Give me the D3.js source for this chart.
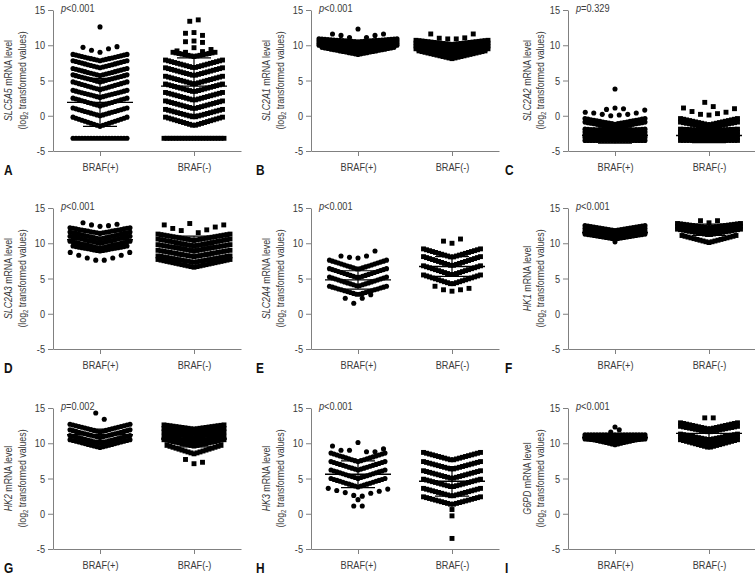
<!DOCTYPE html>
<html><head><meta charset="utf-8">
<script src="https://cdn.jsdelivr.net/npm/d3@7"></script>
<style>
body{margin:0;background:#fff}
svg{display:block;font-family:"Liberation Sans",Arial,sans-serif}
</style></head><body><svg id="c" width="755" height="576"></svg>
<script>
const categories = ["BRAF(+)", "BRAF(-)"];
const panelLetters = ["A","B","C","D","E","F","G","H","I"];
const genes = ["SLC5A5","SLC2A1","SLC2A2","SLC2A3","SLC2A4","HK1","HK2","HK3","G6PD"];
const pLabels = ["<0.001","<0.001","=0.329","<0.001","<0.001","<0.001","=0.002","<0.001","<0.001"];
const yTicks = [-5, 0, 5, 10, 15];
const means = [[1.9,4.2],[10.1,9.7],[-2.8,-2.8],[10.5,9.6],[4.8,6.7],[11.5,11.9],[11.2,10.6],[5.6,4.6],[10.8,11.4]];
const sds   = [[3.4,4.0],[0.5,0.6],[1.1,1.0],[1.1,1.4],[1.3,1.4],[0.5,0.8],[0.8,1.1],[1.9,2.1],[0.4,0.8]];

// dense binned rows: [edge value, centre value, number of points]
const rowsA_pos = [[8.7,7.8,19],[7.8,6.8,19],[6.7,5.7,19],[5.8,4.8,19],[4.8,3.7,19],[3.6,2.6,19],[2.5,1.4,19],[1.1,0.0,19],[-0.2,-1.5,19],[-3.2,-3.2,19]];
const rowsA_neg = [[9.0,8.4,15],[7.9,6.8,20],[6.8,5.7,20],[5.6,4.5,20],[4.5,3.4,20],[3.3,2.2,20],[2.1,1.0,20],[0.9,-0.2,20],[-0.2,-1.4,20],[-3.2,-3.2,21]];
const rowsB_pos = [[10.9,10.5,27],[10.6,10.0,27],[10.3,9.5,27],[10.0,9.1,27],[9.7,8.7,25]];
const rowsB_neg = [[10.7,10.1,25],[10.3,9.6,25],[9.9,9.1,25],[9.5,8.6,25],[9.2,8.1,23]];
const rowsC_pos = [[-0.4,-1.2,21],[-0.9,-1.7,21],[-1.9,-2.1,21],[-2.3,-2.4,21],[-2.7,-2.7,21],[-3.1,-3.1,21],[-3.5,-3.5,21]];
const rowsC_neg = [[-0.4,-1.3,20],[-0.9,-1.7,20],[-1.9,-2.1,20],[-2.3,-2.3,20],[-2.7,-2.7,20],[-3.1,-3.1,20],[-3.5,-3.5,20]];
const rowsD_pos = [[12.2,11.4,21],[11.6,10.6,21],[11.0,10.0,21],[10.3,9.3,21],[9.6,8.9,19]];
const rowsD_neg = [[11.3,10.4,25],[10.6,9.6,25],[9.8,8.9,25],[9.0,8.1,25],[8.2,7.3,25],[7.7,6.6,25]];
const rowsE_pos = [[7.6,6.3,20],[6.4,5.1,20],[5.2,3.9,20],[3.9,2.7,20]];
const rowsE_neg = [[9.2,8.0,20],[8.1,6.8,20],[6.8,5.5,20],[5.5,4.2,20]];
const rowsF_pos = [[12.5,11.8,21],[12.1,11.4,21],[11.7,11.0,21],[11.3,10.6,21]];
const rowsF_neg = [[12.8,12.2,22],[12.4,11.7,22],[12.0,11.2,22],[11.1,10.1,19]];
const rowsG_pos = [[12.7,11.6,21],[11.9,10.8,21],[11.1,10.0,21],[10.5,9.4,21]];
const rowsG_neg = [[12.6,12.0,21],[12.1,11.4,21],[11.6,10.8,21],[11.0,10.2,21],[10.5,9.6,21],[9.7,8.5,19]];
const rowsH_pos = [[8.6,7.4,19],[7.4,6.2,19],[6.2,5.0,19],[5.0,3.8,19]];
const rowsH_neg = [[8.7,7.6,20],[7.4,6.3,20],[6.1,5.0,20],[4.9,3.8,20],[3.6,2.5,20],[2.4,1.3,20]];
const rowsI_pos = [[11.2,11.2,21],[10.9,10.8,21],[10.6,10.3,21],[10.8,9.8,21]];
const rowsI_neg = [[12.9,12.0,20],[12.4,11.6,20],[11.3,10.5,20],[10.9,10.0,20],[10.5,9.4,20]];

// sparse rows: individual values, left to right
const sparseA_pos = [[9.7,9.3,9.0,9.5,9.8],[12.6]];
const sparseA_neg = [[13.4,13.6],[11.7,11.8,11.4],[10.5,10.6,10.4],[9.2,9.0,9.65,9.1,9.4]];
const sparseB_pos = [[11.6,11.4,11.1,12.3,11.1,11.4,11.6]];
const sparseB_neg = [[11.6,11.0,10.9,10.9,11.05,11.6]];
const sparseC_pos = [[0.5,0.4,0.2,0.0,0.1,0.2,0.4,0.8],[0.9,1.1,1.0],[3.8]];
const sparseC_neg = [[1.1,0.6,0.2,0.1,0.3,0.5,1.0],[1.9,1.3]];
const sparseD_pos = [[12.9,12.6,12.4,12.5,12.7],[8.7,8.3,7.9,7.6,7.6,7.9,8.3,8.7]];
const sparseD_neg = [[12.6,12.1,11.8,12.8,11.5,11.9,12.3,12.6]];
const sparseE_pos = [[8.2,8.0,7.9,8.2,8.9],[2.2,1.5,2.2,2.7]];
const sparseE_neg = [[10.3,10.0,10.6],[3.9,3.4,3.2,3.4,3.6]];
const sparseF_pos = [[10.2]];
const sparseF_neg = [[13.2,12.9,13.2]];
const sparseG_pos = [[14.3,13.4]];
const sparseG_neg = [[7.7,7.1,7.3]];
const sparseH_pos = [[9.6,9.0,9.0,10.1,8.8,8.8,9.2],[3.6,3.3,3.0,2.6,2.5,2.9,3.2,3.5],[2.0],[1.1,1.1]];
const sparseH_neg = [[0.6],[-0.3],[-3.5]];
const sparseI_pos = [[12.3],[11.6,11.9]];
const sparseI_neg = [[13.6,13.6]];

const denseRows = [[rowsA_pos,rowsA_neg],[rowsB_pos,rowsB_neg],[rowsC_pos,rowsC_neg],[rowsD_pos,rowsD_neg],[rowsE_pos,rowsE_neg],[rowsF_pos,rowsF_neg],[rowsG_pos,rowsG_neg],[rowsH_pos,rowsH_neg],[rowsI_pos,rowsI_neg]];
const sparseRows = [[sparseA_pos,sparseA_neg],[sparseB_pos,sparseB_neg],[sparseC_pos,sparseC_neg],[sparseD_pos,sparseD_neg],[sparseE_pos,sparseE_neg],[sparseF_pos,sparseF_neg],[sparseG_pos,sparseG_neg],[sparseH_pos,sparseH_neg],[sparseI_pos,sparseI_neg]];

// layout
const colAxisX = [53, 311, 568];
const rowTop = [10, 208, 408];
const plotH = 141, plotW = 188;
const letterX = [4, 256, 505];
const labelOff = [[-41,-27],[-41,-27],[-37,-24]];
const DX = 3, SDX = 8.5;
const SX = 0.8;   // horizontal condensing of the text
const R = 2.55, SQ = 4.9;
const axisColor = "#808080", textColor = "#3a3a3a";

const svg = d3.select("#c");

function condense(sel) {
  sel.each(function () {
    const t = d3.select(this);
    const x = +t.attr("x") || 0;
    t.attr("x", x / SX).attr("transform", (t.attr("transform") || "") + ` scale(${SX},1)`);
  });
}

function buildPoints(dense, sparse) {
  const pts = [];
  dense.forEach(([e, c, n]) => {
    const half = (n - 1) / 2;
    for (let k = 0; k < n; k++) {
      const o = k - half;
      const t = half > 0 ? Math.abs(o) / half : 0;
      pts.push({v: c + (e - c) * t, off: o * DX});
    }
  });
  sparse.forEach(vals => {
    const half = (vals.length - 1) / 2;
    vals.forEach((v, k) => pts.push({v, off: (k - half) * SDX}));
  });
  return pts;
}

for (let i = 0; i < 9; i++) {
  const col = i % 3, row = Math.floor(i / 3);
  const ax = colAxisX[col], top = rowTop[row];
  const y = d3.scaleLinear().domain([-5, 15]).range([top + plotH, top]);
  const x = d3.scalePoint().domain(categories).range([ax, ax + plotW]).padding(0.5);
  const g = svg.append("g");

  // axes
  const ya = g.append("g").attr("transform", `translate(${ax},0)`)
    .call(d3.axisLeft(y).tickValues(yTicks).tickSize(5).tickSizeOuter(0).tickPadding(3).tickFormat(d => String(d)));
  const xa = g.append("g").attr("transform", `translate(0,${top + plotH})`)
    .call(d3.axisBottom(x).tickSize(5).tickSizeOuter(0).tickPadding(4));
  [ya, xa].forEach(a => {
    a.selectAll("path,line").attr("stroke", axisColor).attr("stroke-width", 1);
    a.selectAll("text").attr("fill", textColor).style("font-size", "11.5px").style("font-family", "inherit");
  });
  xa.selectAll("text").attr("dy", "1em");
  condense(ya.selectAll("text"));
  condense(xa.selectAll("text"));

  // points
  categories.forEach((cat, gi) => {
    const pts = buildPoints(denseRows[i][gi], sparseRows[i][gi]);
    const cx = x(cat);
    if (gi === 0) {
      g.append("g").selectAll("circle").data(pts).join("circle")
        .attr("cx", d => cx + d.off).attr("cy", d => y(d.v)).attr("r", R).attr("fill", "#000");
    } else {
      g.append("g").selectAll("rect").data(pts).join("rect")
        .attr("x", d => cx + d.off - SQ / 2).attr("y", d => y(d.v) - SQ / 2)
        .attr("width", SQ).attr("height", SQ).attr("fill", "#000");
    }
    // mean and SD
    const m = means[i][gi], s = sds[i][gi];
    const eg = g.append("g").attr("stroke", "#000");
    eg.append("line").attr("x1", cx - 33).attr("x2", cx + 33).attr("y1", y(m)).attr("y2", y(m)).attr("stroke-width", 1.4);
    eg.append("line").attr("x1", cx).attr("x2", cx).attr("y1", y(m - s)).attr("y2", y(m + s)).attr("stroke-width", 1.2);
    [m - s, m + s].forEach(v => eg.append("line").attr("x1", cx - 17).attr("x2", cx + 17)
      .attr("y1", y(v)).attr("y2", y(v)).attr("stroke-width", 1.2));
  });

  // p value
  const pt = g.append("text").attr("transform", `translate(${ax + 8},${top + 2}) scale(${SX},1)`)
    .attr("fill", textColor).style("font-size", "11.5px");
  pt.append("tspan").style("font-style", "italic").text("p");
  pt.append("tspan").text(pLabels[i]);

  // y label
  const cy = top + plotH / 2;
  const l1 = g.append("text").attr("transform", `translate(${ax + labelOff[col][0]},${cy}) rotate(-90) scale(${SX},1)`)
    .attr("text-anchor", "middle").attr("fill", textColor).style("font-size", "11px");
  l1.append("tspan").style("font-style", "italic").text(genes[i]);
  l1.append("tspan").text(" mRNA level");
  const l2 = g.append("text").attr("transform", `translate(${ax + labelOff[col][1]},${cy}) rotate(-90) scale(${SX},1)`)
    .attr("text-anchor", "middle").attr("fill", textColor).style("font-size", "11px");
  l2.append("tspan").text("(log");
  l2.append("tspan").attr("dy", 2).style("font-size", "7.5px").text("2");
  l2.append("tspan").attr("dy", -2).text(" transformed values)");

  // panel letter
  g.append("text").attr("transform", `translate(${letterX[col]},${top + plotH + 24}) scale(0.85,1)`)
    .attr("fill", "#111").style("font-size", "14px").style("font-weight", "bold").text(panelLetters[i]);
}
</script></body></html>
